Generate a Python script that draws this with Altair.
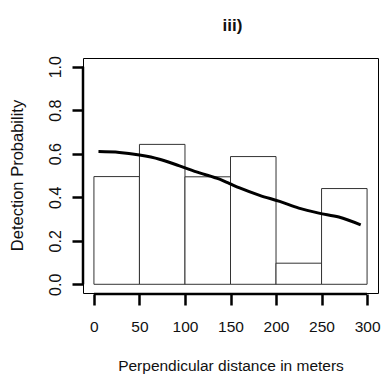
import altair as alt
import pandas as pd

# Histogram bins (perpendicular distance, m) and bar heights
bin_start = [0, 50, 100, 150, 200, 250]
bin_end = [50, 100, 150, 200, 250, 300]
bar_height = [0.495, 0.643, 0.494, 0.587, 0.097, 0.44]

# Fitted detection curve
curve_dist = [5, 28, 50, 72, 94, 116, 138, 149, 160, 182, 204, 225, 247, 269, 293]
curve_prob = [0.610, 0.606, 0.594, 0.575, 0.544, 0.512, 0.483, 0.463, 0.443, 0.409,
              0.381, 0.350, 0.327, 0.309, 0.273]

x_ticks = [0, 50, 100, 150, 200, 250, 300]
y_ticks = [0.0, 0.2, 0.4, 0.6, 0.8, 1.0]

FONT = "Liberation Sans"
W, H = 295, 235

bars_df = pd.DataFrame({"x0": bin_start, "x1": bin_end, "h": bar_height})
curve_df = pd.DataFrame({"d": curve_dist, "p": curve_prob})
axis_df = pd.DataFrame({"a": [x_ticks[0]], "b": [x_ticks[-1]],
                        "c": [y_ticks[0]], "e": [y_ticks[-1]]})

xscale = alt.Scale(domain=[-12, 312], nice=False, zero=False)
yscale = alt.Scale(domain=[-0.04, 1.04], nice=False, zero=False)

xaxis = alt.Axis(values=x_ticks, title="Perpendicular distance in meters",
                 domain=False, grid=False, tickSize=11, tickWidth=2.5,
                 tickColor="black", offset=1,
                 labelFont=FONT, labelFontSize=15.5, labelColor="#111",
                 labelBaseline="alphabetic", labelPadding=26, labelFlush=False,
                 titleFont=FONT, titleFontSize=15.5, titleFontWeight="normal",
                 titleColor="#111", titleBaseline="alphabetic",
                 titleX=W / 2, titleY=76.5, titleAlign="center")
yaxis = alt.Axis(values=y_ticks, format=".1f", title="Detection Probability",
                 domain=False, grid=False, tickSize=11, tickWidth=2.5,
                 tickColor="black",
                 labelFont=FONT, labelFontSize=16, labelColor="#111",
                 labelAngle=270, labelAlign="center", labelBaseline="alphabetic",
                 labelPadding=12, labelFlush=False,
                 titleFont=FONT, titleFontSize=16.5, titleFontWeight="normal",
                 titleColor="#111", titleAngle=270, titleAlign="center",
                 titleBaseline="alphabetic", titleX=-61, titleY=117)

bars = alt.Chart(bars_df).mark_rect(fill="white", stroke="#333", strokeWidth=1).encode(
    x=alt.X("x0:Q", scale=xscale, axis=xaxis),
    x2="x1:Q",
    y=alt.Y("h:Q", scale=yscale, axis=yaxis),
    y2=alt.datum(0),
)

line = alt.Chart(curve_df).mark_line(color="black", strokeWidth=3,
                                     interpolate="monotone").encode(
    x=alt.X("d:Q", scale=xscale),
    y=alt.Y("p:Q", scale=yscale),
)

x_axis_line = alt.Chart(axis_df).mark_rule(color="black", strokeWidth=2.5).encode(
    x=alt.X("a:Q", scale=xscale), x2="b:Q", y=alt.value(H + 1)
)
y_axis_line = alt.Chart(axis_df).mark_rule(color="black", strokeWidth=2.5).encode(
    y=alt.Y("c:Q", scale=yscale), y2="e:Q", x=alt.value(0)
)

chart = alt.layer(bars, line, x_axis_line, y_axis_line).properties(
    width=W, height=H,
    title=alt.TitleParams("iii)", font=FONT, fontSize=17, fontWeight="bold",
                          color="#111", anchor="middle", baseline="alphabetic",
                          offset=8, dx=2),
    autosize=alt.AutoSizeParams(type="none"),
    padding={"left": 83, "top": 58, "right": 4, "bottom": 83},
    background="white",
).configure_view(stroke="black", strokeWidth=1)

chart.save("out.html", embed_options={"renderer": "svg", "actions": False})
